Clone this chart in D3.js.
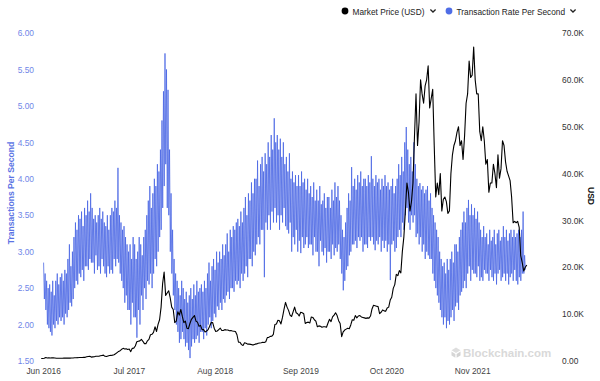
<!DOCTYPE html>
<html><head><meta charset="utf-8">
<script src="https://cdn.jsdelivr.net/npm/d3@7"></script>
<style>body{margin:0;background:#fff;} svg{display:block;font-family:"Liberation Sans",Arial,sans-serif;}</style>
</head><body><svg id="c" width="600" height="381"></svg>
<script>
// ---- data ----
const priceStart = "2016-05-23";
const priceStepDays = 7;
const price = [
530,
530,580,750,650, 670,640,665,670, 655,590,585,575, 580,575,610,608,
610,605,615,640, 640,690,705,710, 740,735,750,765, 780,890,960,1000,
830,880,920,1000, 1000,1010,1120,1190, 1250,1000,970,1080, 1180,1190,1250,1350,
1550,1800,2050,2200, 2500,2700,2550,2600, 2450,2550,2000,2700, 2750,3200,4100,4200,
4300,4600,4200,3700, 3700,4300,4600,5600, 5700,6100,7300,6300, 7800,8800,11500,16500,
19000,14000,14500,15000, 13500,11500,11000,8200, 8500,10500,9800,11000, 9500,8200,8500,7000,
6900,8000,8900,9300, 9700,8500,8300,7400, 7600,6700,6700,6200, 6400,6700,7400,8200,
8200,7000,6300,6400, 6700,7000,6500,6500, 6700,6600,6600,6450, 6500,6400,6350,6300,
5600,4000,4000,3500, 3300,3900,3800,3600, 3600,3550,3450,3450, 3600,3650,3800,3850,
3900,4000,3950,4100, 5000,5050,5250,5300, 5700,7800,7900,8700, 8600,7900,9300,11000,
12500,11500,10800,9800, 9500,10500,11500,10300, 10100,9600,10400,10300, 10100,8000,8200,8300,
8100,9400,9300,8800, 8500,7300,7500,7400, 7200,7300,7300,7200, 8100,8900,8400,9400,
9800,10300,9700,8600, 8000,5200,6200,6600, 6800,7000,6900,7700, 8800,8700,9700,9200,
9600,9700,9400,9300, 9200,9100,9200,9150, 9600,11100,11900,11800, 11700,11600,10100,10400,
10900,10700,10600,11300, 11500,13000,13600,15500, 16300,18500,18200,19300, 18800,23400,26500,32000,
38000,36000,32000,34000, 38000,48000,57000,46000, 51000,60000,57000,55000, 58700,60000,63000,54000,
56000,58000,46000,35000, 38000,35500,40000,32000, 34500,35000,34000,31500, 32000,40000,44000,46000,
47000,48800,50000,46000, 47000,43000,48000,55000, 57000,64000,60500,61000, 67000,60000,57000,57000,
49000,47000,50000,47000, 42000,43000,36000,38000, 38000,42000,40000,37000, 44000,39000,41000,47000,
46000,42500,40500,39500, 38500,35000,29500,29800, 29500,29800,28500,22500, 21000,19200,20000,20500
];

const txStart = "2016-06-03";
const txStepDays = 3.5;
const txRate = [
2.85,2.35,2.7,2.2,2.6,2.0,2.5,1.95,
2.55,1.9,2.45,1.85,2.6,2.0,2.4,1.95,
2.6,2.05,2.7,2.0,2.55,2.1,2.65,2.05,
2.7,2.1,2.6,2.0,2.75,2.15,2.7,2.1,
2.9,2.2,3.1,2.3,2.8,2.25,3.0,2.35,
3.2,2.5,3.4,2.6,3.3,2.55,3.5,2.7,
3.45,2.65,3.55,2.75,3.35,2.6,3.6,2.8,
3.5,2.8,3.7,2.75,3.55,2.9,3.8,2.85,
3.6,2.85,3.45,2.7,3.5,2.95,3.4,2.75,
3.5,2.8,3.6,2.7,3.45,2.9,3.55,2.8,
3.4,2.7,3.35,2.65,3.5,2.8,3.3,2.7,
3.5,2.75,3.6,2.7,3.55,2.9,3.7,2.8,
3.6,2.9,4.15,2.85,3.5,2.7,3.4,2.6,
3.3,2.5,3.35,2.3,3.2,2.4,3.1,2.2,
3.0,2.2,3.1,2.0,2.9,2.3,3.2,2.1,
3.1,2.1,2.9,1.82,3.0,2.2,3.2,2.0,
3.1,2.4,2.95,2.2,3.2,2.5,3.3,2.35,
3.5,2.6,3.7,2.55,3.9,2.7,3.6,2.5,
3.8,2.7,4.0,2.9,3.9,2.8,4.2,3.0,
4.1,3.2,4.4,3.3,4.8,3.6,5.2,3.9,
5.72,4.2,5.5,3.6,5.22,3.5,4.4,3.0,
3.8,2.7,3.3,2.4,2.9,2.2,2.7,2.0,
2.6,1.9,2.5,1.75,2.4,1.8,2.6,1.9,
2.5,1.8,2.35,1.7,2.45,1.75,2.3,1.65,
2.4,1.54,2.5,1.7,2.35,1.8,2.55,1.75,
2.4,1.8,2.6,1.85,2.45,1.75,2.5,1.9,
2.55,1.9,2.45,1.8,2.6,1.95,2.5,1.85,
2.7,2.0,2.85,2.1,2.6,1.95,2.8,2.05,
2.9,2.15,2.75,2.1,3.0,2.25,2.85,2.2,
3.0,2.3,2.9,2.2,3.1,2.35,2.95,2.3,
3.1,2.4,3.25,2.45,3.0,2.35,3.3,2.5,
3.2,2.5,3.35,2.45,3.3,2.6,3.4,2.55,
3.45,2.6,3.35,2.5,3.55,2.7,3.4,2.6,
3.6,2.7,3.75,2.8,3.5,2.65,3.8,2.9,
3.7,2.9,3.95,2.8,3.8,3.0,4.0,2.95,
4.0,3.1,4.25,3.2,3.9,3.1,4.2,3.3,
4.3,3.3,4.1,2.65,4.35,3.4,4.2,3.3,
4.5,3.5,4.3,3.3,4.6,3.55,4.4,3.4,
4.83,3.6,4.5,3.4,4.6,3.5,4.4,3.3,
4.55,3.5,4.3,3.4,4.5,3.6,4.2,3.35,
4.3,3.3,4.1,3.25,4.35,3.4,4.0,3.0,
4.1,3.2,3.95,3.1,4.05,3.3,3.9,3.0,
4.05,3.15,3.9,2.98,4.1,3.2,3.95,3.05,
4.0,3.1,3.85,3.2,4.0,3.05,3.8,3.1,
3.9,3.1,3.75,2.95,3.95,3.2,3.7,3.0,
3.85,3.0,3.7,2.8,3.9,3.15,3.65,3.0,
3.7,2.95,3.8,3.05,3.6,2.85,3.75,3.0,
3.75,3.0,3.6,2.9,3.85,3.1,3.7,2.95,
3.95,3.05,3.75,3.0,3.9,3.1,3.7,2.9,
3.5,2.7,3.3,2.47,3.2,2.6,3.4,2.75,
3.6,2.8,3.8,2.95,3.7,3.0,4.16,3.1,
3.9,3.1,4.0,3.15,3.85,3.05,4.05,3.2,
3.95,3.15,4.1,3.2,3.9,3.0,4.0,3.1,
4.0,3.1,3.9,3.05,4.05,3.2,3.95,3.15,
4.31,3.2,4.0,3.1,3.9,3.02,4.05,3.15,
3.95,3.1,4.0,3.2,3.85,3.0,4.0,3.15,
3.9,3.05,4.05,3.15,3.9,3.0,3.95,3.1,
3.85,2.61,3.9,3.1,4.0,3.15,3.8,3.0,
3.9,3.05,4.0,3.2,4.2,3.3,4.05,3.2,
4.3,3.4,4.1,3.3,4.5,3.5,4.71,3.6,
4.4,3.4,4.2,3.3,4.3,3.5,4.1,3.4,
4.5,3.5,4.2,3.2,4.0,3.25,3.9,3.1,
3.94,3.2,3.85,3.0,3.9,3.1,3.8,2.9,
3.85,3.0,3.9,2.95,3.7,2.9,3.8,2.9,
3.6,2.7,3.5,2.6,3.4,2.5,3.3,2.4,
3.2,2.3,3.0,2.2,2.9,2.1,2.8,2.0,
2.85,2.1,2.7,1.95,2.9,2.05,2.75,2.0,
2.9,2.1,3.0,2.2,2.85,2.05,3.1,2.25,
3.1,2.3,3.0,2.2,3.2,2.4,3.3,2.45,
3.4,2.5,3.55,2.6,3.4,2.5,3.6,2.7,
3.71,2.8,3.5,2.6,3.65,2.75,3.5,2.7,
3.6,2.7,3.45,2.65,3.55,2.8,3.4,2.6,
3.3,2.65,3.2,2.6,3.35,2.75,3.2,2.7,
3.25,2.7,3.1,2.6,3.3,2.75,3.15,2.65,
3.2,2.6,3.3,2.7,3.1,2.55,3.25,2.7,
3.3,2.75,3.15,2.6,3.2,2.65,3.35,2.7,
3.2,2.6,3.3,2.7,3.15,2.55,3.25,2.65,
3.3,2.7,3.2,2.6,3.3,2.75,3.2,2.6,
3.25,2.55,3.3,2.65,3.2,2.6,3.3,2.7,
3.55,2.7,2.95,2.75
];

const xDomain = ["2016-05-22","2022-07-12"];
const xTickDates = ["2016-06-01","2017-07-01","2018-08-01","2019-09-01","2020-10-01","2021-11-01"];
const xTickLabels = ["Jun 2016","Jul 2017","Aug 2018","Sep 2019","Oct 2020","Nov 2021"];
const leftTicks = [1.5,2,2.5,3,3.5,4,4.5,5,5.5,6];
const rightTicks = [0,10000,20000,30000,40000,50000,60000,70000];
const legendLabels = ["Market Price (USD)","Transaction Rate Per Second"];
const axisTitles = ["Transactions Per Second","USD"];

// ---- chart ----
const parse = d3.timeParse("%Y-%m-%d");
const DAY = 86400000;
const svg = d3.select("#c");
const BLUE = "#4461e3", BLACK = "#000";
const FS = 8.4;

const x = d3.scaleTime().domain(xDomain.map(parse)).range([41, 527]);
const yL = d3.scaleLinear().domain([1.5, 6]).range([361, 33]);
const yR = d3.scaleLinear().domain([0, 70000]).range([361, 33]);

const pStart = parse(priceStart).getTime();
const priceData = price.map((v, i) => ({ d: new Date(pStart + i * priceStepDays * DAY), v }));
const tStart = parse(txStart).getTime();
const txData = txRate.map((v, i) => ({ d: new Date(tStart + i * txStepDays * DAY), v }));

// watermark
const wm = svg.append("g").attr("transform", "translate(456,352)");
wm.append("path").attr("d", "M0,-4.5 L4.5,-1.8 L0,0.9 L-4.5,-1.8 Z").attr("fill", "#dedede");
wm.append("path").attr("d", "M-4.5,-0.4 L-0.6,2 L-0.6,5.8 L-4.5,3.4 Z").attr("fill", "#d6d6d6");
wm.append("path").attr("d", "M4.5,-0.4 L0.6,2 L0.6,5.8 L4.5,3.4 Z").attr("fill", "#d2d2d2");
svg.append("text").attr("x", 463).attr("y", 357).text("Blockchain.com")
  .attr("font-size", 11.5).attr("font-weight", 700).attr("fill", "#d9d9d9");

// lines
svg.append("path").datum(txData)
  .attr("d", d3.line().x(d => x(d.d)).y(d => yL(d.v)))
  .attr("fill", "none").attr("stroke", BLUE).attr("stroke-width", 0.75).attr("stroke-linejoin", "round");
svg.append("path").datum(priceData)
  .attr("d", d3.line().x(d => x(d.d)).y(d => yR(d.v)))
  .attr("fill", "none").attr("stroke", BLACK).attr("stroke-width", 1.1).attr("stroke-linejoin", "round");

// axes
const gl = svg.append("g").attr("transform", "translate(36,0)")
  .call(d3.axisLeft(yL).tickValues(leftTicks).tickFormat(d3.format(".2f")).tickSize(0).tickPadding(2));
gl.select(".domain").remove();
gl.selectAll("text").attr("fill", "#7086e8").attr("font-size", FS).attr("font-family", null);

const gr = svg.append("g").attr("transform", "translate(559,0)")
  .call(d3.axisRight(yR).tickValues(rightTicks)
    .tickFormat(d => d === 0 ? "0.00" : (d / 1000).toFixed(1) + "K").tickSize(0).tickPadding(3));
gr.select(".domain").remove();
gr.selectAll("text").attr("fill", "#333").attr("font-size", FS).attr("font-family", null);

const gx = svg.append("g").attr("transform", "translate(0,365)")
  .call(d3.axisBottom(x).tickValues(xTickDates.map(parse)).tickFormat((d, i) => xTickLabels[i]).tickSize(0).tickPadding(3));
gx.select(".domain").remove();
gx.selectAll("text").attr("fill", "#444").attr("font-size", FS).attr("font-family", null);

// axis titles
svg.append("text").attr("transform", "translate(14,193) rotate(-90)").attr("text-anchor", "middle")
  .attr("font-size", 8.6).attr("font-weight", 700).attr("fill", "#5b74e4").text(axisTitles[0]);
svg.append("text").attr("transform", "translate(588,196) rotate(90)").attr("text-anchor", "middle")
  .attr("font-size", 8.6).attr("font-weight", 700).attr("fill", "#111").text(axisTitles[1]);

// legend
const leg = [
  { x: 345, color: "#000", label: legendLabels[0], chev: 433 },
  { x: 449, color: "#4f6de6", label: legendLabels[1], chev: 573 }
];
leg.forEach(l => {
  svg.append("circle").attr("cx", l.x).attr("cy", 11).attr("r", 3.4).attr("fill", l.color);
  svg.append("text").attr("x", l.x + 7.5).attr("y", 14.6).attr("font-size", 8.3).attr("fill", "#222").text(l.label);
  svg.append("path").attr("d", `M${l.chev - 2.6},9.6 L${l.chev},12 L${l.chev + 2.6},9.6`)
    .attr("fill", "none").attr("stroke", "#222").attr("stroke-width", 1.3);
});
</script></body></html>
